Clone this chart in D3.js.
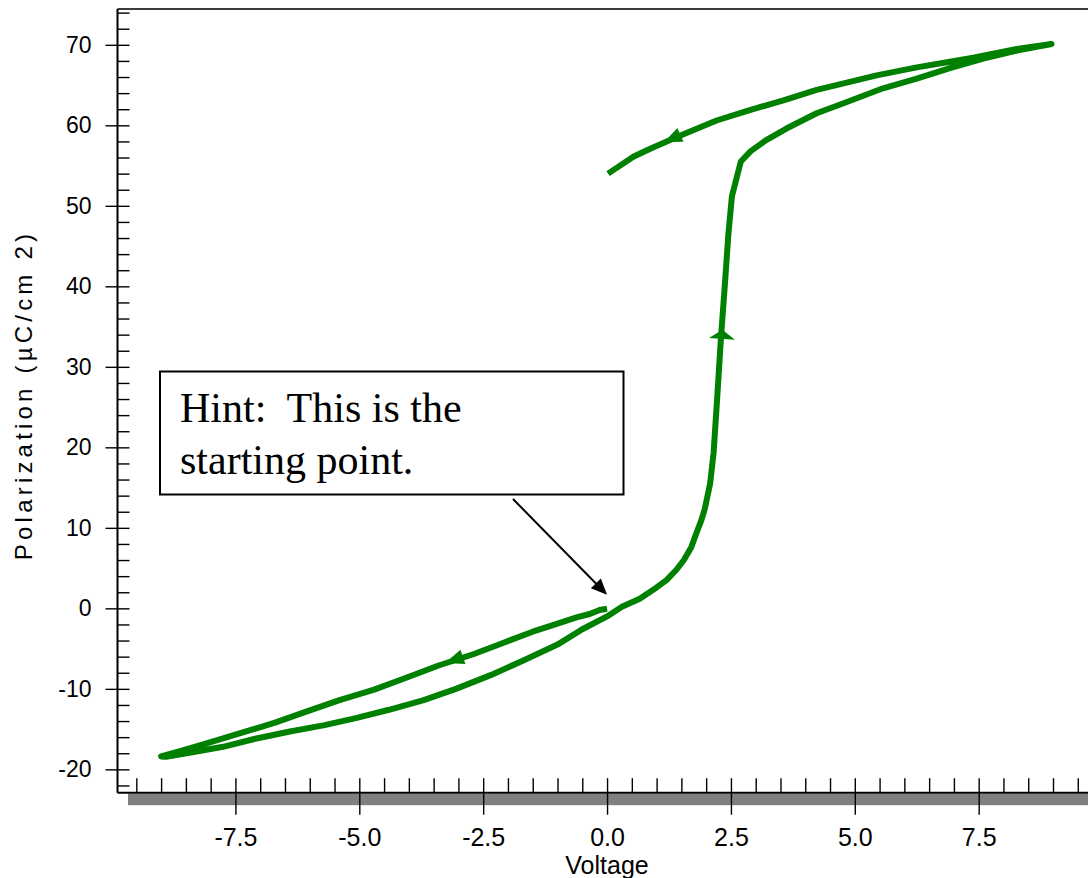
<!DOCTYPE html>
<html>
<head>
<meta charset="utf-8">
<script src="https://cdn.jsdelivr.net/npm/d3@7"></script>
<style>
  body { margin: 0; background: #fff; }
  svg { display: block; }
</style>
</head>
<body>
<div id="graph"></div>
<script>
// hysteresis loop in the order it was traced:
// start at 0 V, sweep down to -9 V, back up to +9 V, then down to 0 V
const voltage = [
  0.00, -0.15, -0.35, -0.60, -1.00, -1.50, -2.10, -2.70, -3.40, -4.00, -4.70, -5.40,
  -6.10, -6.70, -7.40, -8.10, -8.60, -9.00,
  -8.90, -8.40, -7.75, -7.10, -6.40, -5.70, -5.05, -4.40, -3.70, -3.05, -2.35, -1.70,
  -1.00, -0.50, 0.00, 0.30, 0.66, 1.00, 1.20, 1.40, 1.55, 1.70, 1.80, 1.90, 1.97, 2.08,
  2.15, 2.22, 2.30, 2.38, 2.45, 2.52, 2.70, 2.90, 3.22, 3.62, 4.23, 4.84, 5.57, 6.25,
  6.92, 7.59, 8.27, 8.97,
  8.27, 7.39, 6.92, 6.25, 5.44, 4.90, 4.23, 3.56, 2.88, 2.21, 1.47, 0.87, 0.53, 0.02
];
const polarization = [
  -0.05, -0.20, -0.70, -1.10, -1.90, -2.90, -4.30, -5.70, -7.10, -8.50, -10.1, -11.4,
  -12.9, -14.2, -15.5, -16.8, -17.7, -18.4,
  -18.45, -17.9, -17.2, -16.2, -15.3, -14.5, -13.6, -12.6, -11.4, -10.0, -8.3, -6.5,
  -4.5, -2.6, -1.0, 0.2, 1.2, 2.6, 3.5, 4.8, 6.0, 7.6, 9.3, 10.9, 12.3, 15.5,
  19.3, 25.9, 33.7, 40.4, 46.6, 51.2, 55.5, 56.8, 58.2, 59.6, 61.5, 62.9, 64.6, 65.8,
  67.1, 68.3, 69.3, 70.1,
  69.5, 68.4, 67.9, 67.2, 66.2, 65.4, 64.4, 63.1, 61.9, 60.6, 58.7, 57.1, 56.1, 54.0
];

// direction arrows on the loop (tip positions)
const arrowVoltage = [1.15, 2.33, -3.27];
const arrowPolarization = [57.9, 34.6, -6.8];

const xMajorTicks = [-7.5, -5.0, -2.5, 0.0, 2.5, 5.0, 7.5];
const yMajorTicks = [-20, -10, 0, 10, 20, 30, 40, 50, 60, 70];
const xTitle = "Voltage";
const yTitle = "Polarization (µC/cm 2)";
const hintLines = ["Hint:  This is the", "starting point."];

document.addEventListener('DOMContentLoaded', function () {
  const fullwidth = 1088;
  const fullheight = 878;
  const left = 117.5;
  const bottom = 792.7;
  const top = 9;

  const xScale = d3.scaleLinear().
  domain([-9.88, 9.9]).
  range([left, 1097.6]);

  const yScale = d3.scaleLinear().
  domain([-22.9, 74.45]).
  range([bottom, top]);

  const svg = d3.select("#graph").
  append("svg").
  attr("width", fullwidth).
  attr("height", fullheight).
  style("font-family", "'Liberation Sans', Arial, sans-serif");

  // top frame line
  svg.append("line").
  attr("x1", left).attr("x2", fullwidth).
  attr("y1", top).attr("y2", top).
  attr("stroke", "#3c3c3c").attr("stroke-width", 2);

  // grey band under the x axis
  svg.append("rect").
  attr("x", 128).attr("y", bottom + 1).
  attr("width", fullwidth - 128).attr("height", 11.5).
  attr("fill", "#808080");

  // y axis: long ticks outside for labelled values, short ticks inside every 2
  const yMinor = d3.range(-22, 75, 2);
  svg.append("g").
  attr("id", "y-minor").
  attr("transform", "translate(" + left + ",0)").
  call(d3.axisRight(yScale).tickValues(yMinor).tickSize(12).tickFormat(""));

  const yAxis = svg.append("g").
  attr("id", "y-axis").
  attr("transform", "translate(" + left + ",0)").
  call(d3.axisLeft(yScale).tickValues(yMajorTicks).tickSize(12).tickPadding(14).tickFormat(d => String(d)));
  yAxis.selectAll("text").
  attr("font-size", 23).
  attr("fill", "#000").
  attr("font-family", "'Liberation Sans', Arial, sans-serif");

  // x axis
  const xMinor = d3.range(-9.5, 10, 0.5);
  svg.append("g").
  attr("id", "x-minor").
  attr("transform", "translate(0," + bottom + ")").
  call(d3.axisTop(xScale).tickValues(xMinor).tickSize(14.5).tickFormat(""));

  const xAxis = svg.append("g").
  attr("id", "x-axis").
  attr("transform", "translate(0," + bottom + ")").
  call(d3.axisBottom(xScale).tickValues(xMajorTicks).tickSize(22).tickFormat(d => d.toFixed(1)));
  xAxis.selectAll("text").
  attr("font-size", 25).
  attr("fill", "#000").
  attr("y", 53).
  attr("dy", 0).
  attr("font-family", "'Liberation Sans', Arial, sans-serif");

  svg.selectAll(".domain").remove();
  svg.selectAll(".tick line").
  attr("stroke", "#000").
  attr("stroke-width", 1.4);

  // axis lines
  svg.append("line").
  attr("x1", left).attr("x2", left).
  attr("y1", top).attr("y2", bottom).
  attr("stroke", "#000").attr("stroke-width", 2);
  svg.append("line").
  attr("x1", left).attr("x2", fullwidth).
  attr("y1", bottom).attr("y2", bottom).
  attr("stroke", "#000").attr("stroke-width", 2);

  // titles
  svg.append("text").
  attr("x", xScale(0)).
  attr("y", 874).
  attr("text-anchor", "middle").
  attr("font-size", 25).
  text(xTitle);

  svg.append("text").
  attr("transform", "translate(32,395) rotate(-90)").
  attr("text-anchor", "middle").
  attr("font-size", 24).
  attr("letter-spacing", 4.2).
  style("white-space", "pre").
  text(yTitle);

  // the loop
  const dataset = voltage.map((v, i) => [v, polarization[i]]);
  const line = d3.line().
  x(d => xScale(d[0])).
  y(d => yScale(d[1]));

  svg.append("path").
  datum(dataset).
  attr("d", line).
  attr("fill", "none").
  attr("stroke", "#008000").
  attr("stroke-width", 6).
  attr("stroke-linejoin", "round").
  attr("stroke-linecap", "butt");

  // arrowheads along the loop, pointing in the direction of travel
  const headLen = [18, 9, 19];
  const headHalf = [7.5, 13, 7.5];
  const pts = dataset.map(d => [xScale(d[0]), yScale(d[1])]);

  function headPath(tx, ty, ux, uy, len, half) {
    const n = Math.hypot(ux, uy);
    ux /= n;uy /= n;
    const bx = tx - ux * len,by = ty - uy * len;
    const px = -uy * half,py = ux * half;
    return "M" + tx + "," + ty + "L" + (bx + px) + "," + (by + py) + "L" + (bx - px) + "," + (by - py) + "Z";
  }

  arrowVoltage.forEach(function (v, k) {
    const tx = xScale(v),ty = yScale(arrowPolarization[k]);
    // nearest vertex on the path to find the travel direction
    let best = 1,bestDist = Infinity;
    for (let i = 1; i < pts.length - 1; ++i) {
      const dd = Math.hypot(pts[i][0] - tx, pts[i][1] - ty);
      if (dd < bestDist) {bestDist = dd;best = i;}
    }
    const ux = pts[best + 1][0] - pts[best - 1][0];
    const uy = pts[best + 1][1] - pts[best - 1][1];
    svg.append("path").
    attr("d", headPath(tx, ty, ux, uy, headLen[k], headHalf[k])).
    attr("fill", "#008000");
  });

  // hint callout
  svg.append("rect").
  attr("x", 160).attr("y", 371.5).
  attr("width", 463.5).attr("height", 123).
  attr("fill", "#fff").
  attr("stroke", "#000").
  attr("stroke-width", 2);

  svg.selectAll(".hint").
  data(hintLines).
  enter().
  append("text").
  attr("class", "hint").
  attr("x", 180).
  attr("y", (d, i) => 422 + i * 52).
  attr("font-family", "'Liberation Serif', 'Times New Roman', serif").
  attr("font-size", 42).
  style("white-space", "pre").
  text(d => d);

  // pointer from the callout to the first data point
  const tipX = xScale(voltage[0]);
  const tipY = yScale(polarization[0]) - 14;
  const fromX = 513,fromY = 499;
  const dx = tipX - fromX,dy = tipY - fromY;
  const dl = Math.hypot(dx, dy);
  svg.append("line").
  attr("x1", fromX).attr("y1", fromY).
  attr("x2", tipX - dx / dl * 12).attr("y2", tipY - dy / dl * 12).
  attr("stroke", "#000").
  attr("stroke-width", 2);
  svg.append("path").
  attr("d", headPath(tipX, tipY, dx, dy, 16, 7)).
  attr("fill", "#000");
});
</script>
</body>
</html>
